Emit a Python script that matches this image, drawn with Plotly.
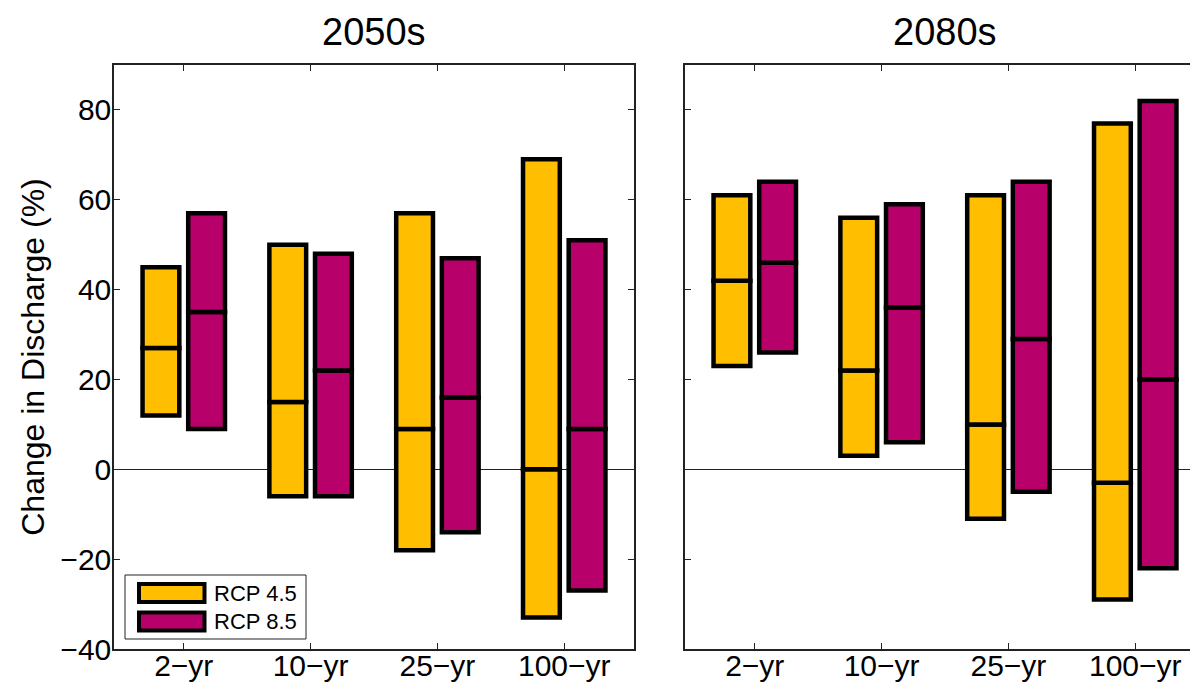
import plotly.graph_objects as go

# ---------------- data ----------------
return_periods = ["2\u2212yr", "10\u2212yr", "25\u2212yr", "100\u2212yr"]
positions = [1, 2, 3, 4]

# 2050s (min, median, max) in % change
rcp45_2050_min = [12, -6, -18, -33]
rcp45_2050_med = [27, 15, 9, 0]
rcp45_2050_max = [45, 50, 57, 69]
rcp85_2050_min = [9, -6, -14, -27]
rcp85_2050_med = [35, 22, 16, 9]
rcp85_2050_max = [57, 48, 47, 51]

# 2080s
rcp45_2080_min = [23, 3, -11, -29]
rcp45_2080_med = [42, 22, 10, -3]
rcp45_2080_max = [61, 56, 61, 77]
rcp85_2080_min = [26, 6, -5, -22]
rcp85_2080_med = [46, 36, 29, 20]
rcp85_2080_max = [64, 59, 64, 82]

y_ticks = [-40, -20, 0, 20, 40, 60, 80]
panel_titles = ["2050s", "2080s"]
series_names = ["RCP 4.5", "RCP 8.5"]

# ---------------- style ----------------
C45 = "#FFBF00"
C85 = "#B8006B"
FONT = "Liberation Sans, Arial, Helvetica, sans-serif"
BAR_W = 0.29
OFFS = {"RCP 4.5": -0.18 - BAR_W / 2, "RCP 8.5": 0.18 - BAR_W / 2}

# page body has an 8px margin; figure is sized/positioned to compensate
W, H = 1210, 688
ML, MR, MT, MB = 106, 13, 57, 47
PW = W - ML - MR
PH = H - MT - MB
PANEL_PX = 520
GAP_PX = 51

fig = go.Figure()

panels = [
    ("x", "y", [
        ("RCP 4.5", C45, rcp45_2050_min, rcp45_2050_med, rcp45_2050_max),
        ("RCP 8.5", C85, rcp85_2050_min, rcp85_2050_med, rcp85_2050_max),
    ]),
    ("x2", "y2", [
        ("RCP 4.5", C45, rcp45_2080_min, rcp45_2080_med, rcp45_2080_max),
        ("RCP 8.5", C85, rcp85_2080_min, rcp85_2080_med, rcp85_2080_max),
    ]),
]

for xa, ya, series in panels:
    for name, col, mn, md, mx in series:
        lower = [m - a for a, m in zip(mn, md)]
        upper = [b - m for m, b in zip(md, mx)]
        for base, height in ((mn, lower), (md, upper)):
            fig.add_trace(go.Bar(
                x=positions, y=height, base=base, width=BAR_W,
                offset=OFFS[name], name=name, showlegend=False,
                marker=dict(color=col, line=dict(color="black", width=4.5)),
                xaxis=xa, yaxis=ya, hoverinfo="skip",
            ))

# ---------------- axes ----------------
left_dom = [0, PANEL_PX / PW]
right_dom = [(PANEL_PX + GAP_PX) / PW, 1]

common_x = dict(
    range=[0.45, 4.55],
    tickmode="array", tickvals=positions, ticktext=return_periods,
    ticks="inside", ticklen=6, tickwidth=1, tickcolor="#222",
    showline=True, linecolor="#222", linewidth=1.5, mirror="ticks",
    showgrid=False, zeroline=False,
    tickfont=dict(family=FONT, size=30, color="black"),
    ticklabelstandoff=-11,
)
common_y = dict(
    range=[-40, 90], tickmode="array", tickvals=y_ticks,
    ticks="inside", ticklen=6, tickwidth=1, tickcolor="#222",
    showline=True, linecolor="#222", linewidth=1.5, mirror="ticks",
    showgrid=False, zeroline=True, zerolinecolor="#222", zerolinewidth=1,
    tickfont=dict(family=FONT, size=30, color="black"),
)

fig.update_layout(
    xaxis=dict(domain=left_dom, anchor="y", **common_x),
    xaxis2=dict(domain=right_dom, anchor="y2", **common_x),
    yaxis=dict(domain=[0, 1], anchor="x", ticklabelstandoff=-5,
               title=dict(text="Change in Discharge (%)",
                          font=dict(family=FONT, size=32, color="black"), standoff=6),
               **common_y),
    yaxis2=dict(domain=[0, 1], anchor="x2", showticklabels=False, **common_y),
    barmode="overlay",
    width=W, height=H,
    margin=dict(l=ML, r=MR, t=MT, b=MB, autoexpand=False),
    plot_bgcolor="white", paper_bgcolor="white",
    font=dict(family=FONT, color="black"),
    showlegend=False,
)

# panel titles
for dom, title in zip([left_dom, right_dom], panel_titles):
    fig.add_annotation(
        text=title, x=(dom[0] + dom[1]) / 2,
        y=1, xref="paper", yref="paper", xanchor="center", yanchor="bottom",
        yshift=11, borderpad=0, showarrow=False,
        font=dict(family=FONT, size=38, color="black"),
    )

# ---------------- custom legend ----------------
def px_x(px):  # window px -> paper
    return (px - 8 - ML) / PW

def px_y(py):
    return (H - MB - (py - 8)) / PH

fig.add_shape(type="rect", xref="paper", yref="paper",
              x0=px_x(125), x1=px_x(306), y0=px_y(639), y1=px_y(575),
              line=dict(color="#222", width=1), fillcolor="white", layer="above")
for (name, col), cy in zip([(series_names[0], C45), (series_names[1], C85)], [593, 621.5]):
    fig.add_shape(type="rect", xref="paper", yref="paper",
                  x0=px_x(139), x1=px_x(204.5), y0=px_y(cy + 9), y1=px_y(cy - 9),
                  line=dict(color="black", width=4), fillcolor=col, layer="above")
    fig.add_annotation(text=name, x=px_x(212), y=px_y(cy), xref="paper", yref="paper",
                       xanchor="left", yanchor="middle", showarrow=False,
                       font=dict(family=FONT, size=22, color="black"))

fig.write_html("out.html")
